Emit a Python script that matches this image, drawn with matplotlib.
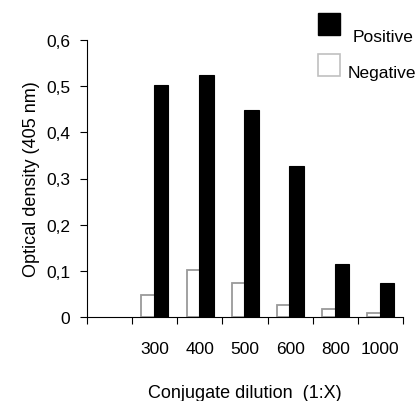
import numpy as np
import matplotlib
matplotlib.use("Agg")
import matplotlib.pyplot as plt
from matplotlib.patches import Rectangle

plt.rcParams['font.family'] = ['Liberation Sans', 'DejaVu Sans']

# data
dilutions = ["300", "400", "500", "600", "800", "1000"]
positive = [0.502, 0.523, 0.448, 0.327, 0.116, 0.075]
negative = [0.048, 0.103, 0.074, 0.027, 0.019, 0.009]
yticks = [0, 0.1, 0.2, 0.3, 0.4, 0.5, 0.6]
ytick_labels = ["0", "0,1", "0,2", "0,3", "0,4", "0,5", "0,6"]

W, H = 419, 402
fig = plt.figure(figsize=(W / 100, H / 100), dpi=100)
ax = fig.add_axes([87 / W, 1 - 318.3 / H, (403 - 87) / W, (318.3 - 40.7) / H])

# first slot is empty, dilutions sit in slots 1..6
centers = np.arange(1, len(dilutions) + 1) + 0.5
bw = 0.32
ax.bar(centers - 0.135, negative, bw, color='white', edgecolor='#9a9a9a', linewidth=1.3, zorder=2)
ax.bar(centers + 0.145, positive, bw, color='black', edgecolor='black', linewidth=0.8, zorder=3)

ax.set_xlim(0, 7)
ax.set_ylim(0, 0.6)
ax.set_yticks(yticks)
ax.set_yticklabels(ytick_labels)
ax.set_xticks(np.arange(0, 8))
ax.set_xticklabels([])
ax.set_xticks(centers, minor=True)
ax.set_xticklabels(dilutions, minor=True)
ax.tick_params(axis='x', which='major', direction='out', length=5, width=0.8)
ax.tick_params(axis='x', which='minor', length=0, pad=17, labelsize=12.5)
ax.tick_params(axis='y', direction='out', length=5, width=0.8, pad=7, labelsize=12.5)

for s in ['top', 'right']:
    ax.spines[s].set_visible(False)
for s in ['left', 'bottom']:
    ax.spines[s].set_linewidth(0.8)

ax.set_ylabel("Optical density (405 nm)", fontsize=13)
ax.yaxis.set_label_coords(-0.148, 0.5)
fig.text(245 / W, 1 - 398 / H, "Conjugate dilution  (1:X)", fontsize=13,
         ha='center', va='baseline')

# legend drawn by hand
fig.add_artist(Rectangle((318.3 / W, 1 - 35.7 / H), 21.7 / W, 21.7 / H,
                         facecolor='black', edgecolor='black', transform=fig.transFigure))
fig.add_artist(Rectangle((318.3 / W, 1 - 76.7 / H), 21.7 / W, 21.7 / H,
                         facecolor='white', edgecolor='#c0c0c0', linewidth=1.2,
                         transform=fig.transFigure))
fig.text(352.7 / W, 1 - 41.7 / H, "Positive", fontsize=12.5, va='baseline')
fig.text(347.3 / W, 1 - 78.3 / H, "Negative", fontsize=12.5, va='baseline')

fig.savefig("out.png", dpi=100)
